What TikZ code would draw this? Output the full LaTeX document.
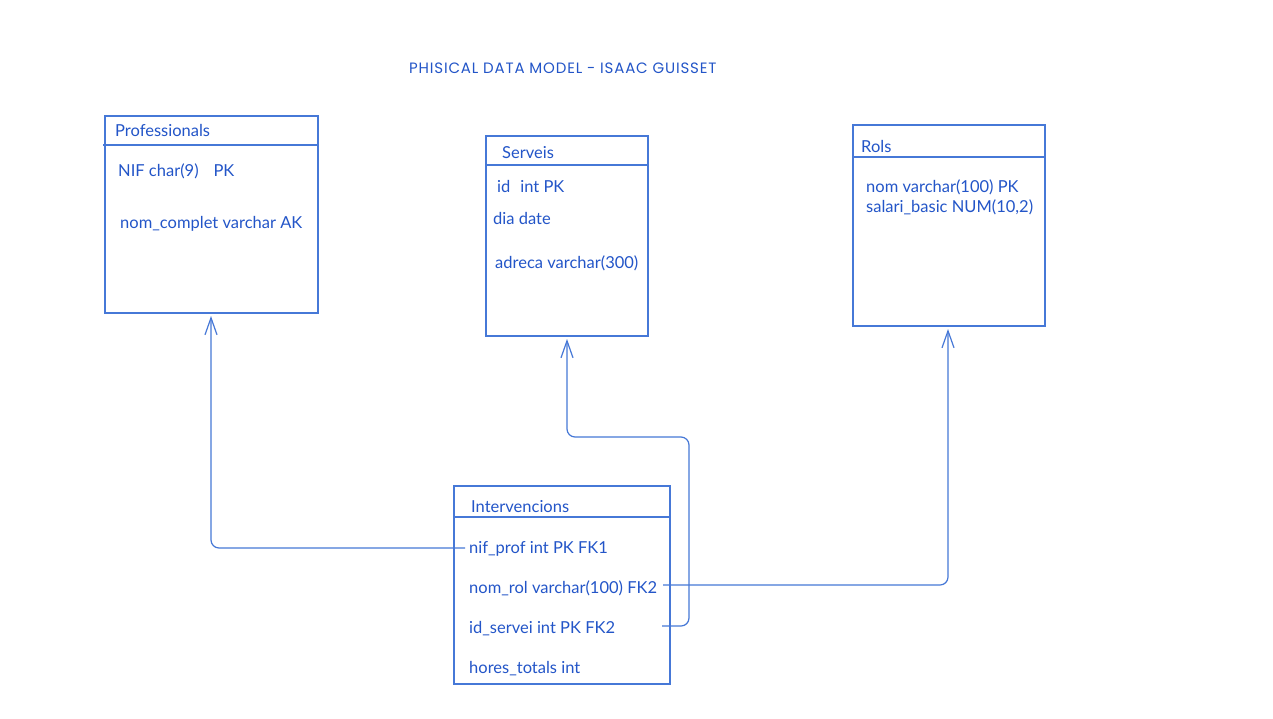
\documentclass[tikz,border=0pt]{standalone}
\usepackage{fontspec}
\setmainfont{Lato}
\newfontfamily\titlefont[LetterSpace=5.5]{Poppins}
\usetikzlibrary{arrows.meta}
\definecolor{linec}{RGB}{70,120,215}
\definecolor{textc}{RGB}{35,85,200}
\tikzset{
  tbl/.style={draw=linec, line width=1.3pt},
  sep/.style={draw=linec, line width=1.3pt},
  txt/.style={anchor=base west, inner sep=0pt, text=textc, font=\fontsize{16.5}{18}\selectfont},
  ttl/.style={anchor=base west, inner sep=0pt, text=textc, font=\titlefont\fontsize{15}{17}\selectfont},
  conn/.style={draw=linec, line width=1.2pt, rounded corners=8pt, -{Straight Barb[length=17pt,width=12pt,line width=1.2pt]}},
}
\begin{document}
\begin{tikzpicture}[x=1pt,y=-1pt]
\useasboundingbox[fill=white] (0,0) rectangle (1273,718);
% title
\node[ttl] (title) at (409,73) {PHISICAL DATA MODEL - ISAAC GUISSET};
% Professionals
\draw[tbl] (105,116) rectangle (318,313);
\draw[sep] (103,145) -- (318,145);
\coordinate (profb) at (211,316);
\node[txt] (prof) at (115,136) {Professionals};
\node[txt] (prof1) at (118,176) {NIF char(9)\hspace{0.9em}PK};
\node[txt] (prof2) at (120,228) {nom\_complet varchar AK};
% Serveis
\draw[tbl] (486,136) rectangle (648,336);
\draw[sep] (486,165) -- (648,165);
\coordinate (servb) at (567,339);
\node[txt] (serv) at (502,158) {Serveis};
\node[txt] (serv1) at (497,192) {id\hspace{0.6em}int PK};
\node[txt] (serv2) at (493,224) {dia date};
\node[txt] (serv3) at (495,268) {adreca varchar(300)};
% Rols
\draw[tbl] (853,125) rectangle (1045,326);
\draw[sep] (853,157) -- (1045,157);
\coordinate (rolb) at (948,329);
\node[txt] (rol) at (861,152) {Rols};
\node[txt] (rol1) at (866,192) {nom varchar(100) PK};
\node[txt] (rol2) at (866,212) {salari\_basic NUM(10,2)};
% Intervencions
\draw[tbl] (454,486) rectangle (670,684);
\draw[sep] (454,517) -- (670,517);
\node[txt] (int) at (471,512) {Intervencions};
\node[txt] (int1) at (469,553) {nif\_prof int PK FK1};
\node[txt] (int2) at (469,593) {nom\_rol varchar(100) FK2};
\node[txt] (int3) at (469,633) {id\_servei int PK FK2};
\node[txt] (int4) at (469,673) {hores\_totals int};
% connectors
\coordinate (c1) at (465,548);
\coordinate (c2) at (663,585);
\coordinate (c3) at (662,626);
\draw[conn] (c1) -| (profb);
\draw[conn] (c2) -| (rolb);
\draw[conn] (c3) -- (689,626) -- (689,437) -- (567,437) -- (servb);
\end{tikzpicture}
\end{document}
